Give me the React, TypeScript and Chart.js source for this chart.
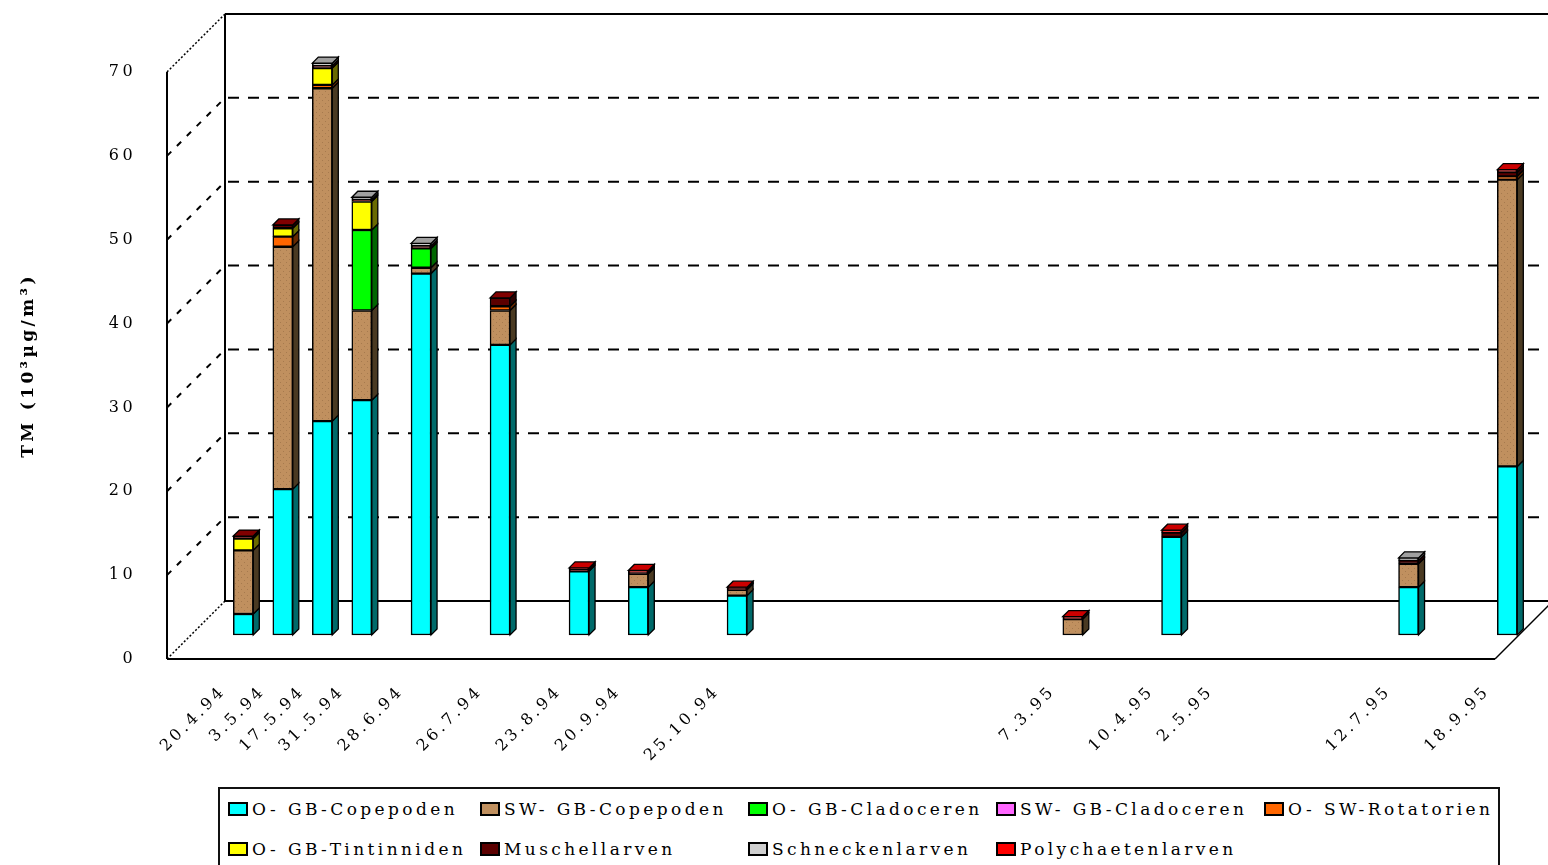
import React, { useEffect, useRef } from 'react';
import { Chart, registerables } from 'chart.js';

Chart.register(...registerables);

// ---------- data ----------
const dateLabels = ['20.4.94', '3.5.94', '17.5.94', '31.5.94', '28.6.94', '26.7.94', '23.8.94', '20.9.94', '25.10.94', '7.3.95', '10.4.95', '2.5.95', '12.7.95', '18.9.95'];
// position of each sampling date on the (irregular) category axis of the original chart
const axisSlots = [0, 2, 4, 6, 9, 13, 17, 20, 25, 42, 47, 50, 59, 64];
const yTickValues = [0, 10, 20, 30, 40, 50, 60, 70];

const oGbCopepoden = [2.5, 17.4, 25.5, 28.0, 43.1, 34.6, 7.6, 5.7, 4.7, 0, 11.7, 0, 5.7, 20.1];
const swGbCopepoden = [7.6, 28.9, 39.7, 10.7, 0.7, 4.1, 0, 1.6, 0.7, 1.9, 0, 0, 2.8, 34.2];
const oGbCladoceren = [0, 0, 0, 9.6, 2.3, 0, 0, 0, 0, 0, 0, 0, 0, 0];
const swGbCladoceren = [0, 0, 0, 0, 0, 0, 0, 0, 0, 0, 0, 0, 0, 0];
const oSwRotatorien = [0, 1.2, 0.4, 0, 0, 0.5, 0, 0, 0, 0, 0, 0, 0, 0.4];
const oGbTintinniden = [1.4, 1.0, 2.0, 3.4, 0, 0, 0, 0, 0, 0, 0, 0, 0, 0];
const muschellarven = [0.3, 0.4, 0.3, 0.2, 0.3, 1.0, 0.2, 0.2, 0.1, 0, 0.5, 0, 0.4, 0.5];
const schneckenlarven = [0, 0, 0.3, 0.3, 0.3, 0, 0, 0, 0, 0, 0, 0, 0.3, 0];
const polychaetenlarven = [0, 0, 0, 0, 0, 0, 0.2, 0.2, 0.2, 0.3, 0.3, 0, 0, 0.3];

const seriesNames = ['O- GB-Copepoden', 'SW- GB-Copepoden', 'O- GB-Cladoceren', 'SW- GB-Cladoceren', 'O- SW-Rotatorien', 'O- GB-Tintinniden', 'Muschellarven', 'Schneckenlarven', 'Polychaetenlarven'];
const seriesValues = [oGbCopepoden, swGbCopepoden, oGbCladoceren, swGbCladoceren, oSwRotatorien, oGbTintinniden, muschellarven, schneckenlarven, polychaetenlarven];

// ---------- styles ----------
const seriesColors = ['#00FFFF', '#C0905F', '#00FF00', '#FF66FF', '#FF6600', '#FFFF00', '#5C0000', '#D0D0D0', '#FF0000'];
const sideColors = ['#006A6A', '#4A3A22', '#006600', '#662966', '#662900', '#6A6A00', '#2A0000', '#606060', '#6A0000'];
const topColors = ['#00FFFF', '#C0905F', '#00FF00', '#FF66FF', '#FF6600', '#FFFF00', '#800000', '#A0A0A0', '#CC0000'];

const FONT = "'DejaVu Serif', 'Liberation Serif', serif";
const W = 1548;
const H = 865;
const PLOT_LEFT = 167;
const PLOT_TOP = 72;
const PLOT_BOTTOM = 659;
const X_AXIS_H = 128;
const WALL_DEPTH = 58;
const FLOOR_RIGHT = 1495;
const BAR_PLANE_OFFSET = 24;
const BAR_SIDE = 6;
const SLOT_PX = 19.75;
const FIRST_BAR_PX = 243.3;
const Y_MAX = 70;

const pxPerUnit = (PLOT_BOTTOM - PLOT_TOP) / Y_MAX;
const yBarMin = -BAR_PLANE_OFFSET / pxPerUnit;
const xMin = (PLOT_LEFT - FIRST_BAR_PX) / SLOT_PX;
const xMax = xMin + (W - PLOT_LEFT) / SLOT_PX;

function makeBrownPattern(ctx: CanvasRenderingContext2D): CanvasPattern | string {
  const c = document.createElement('canvas');
  c.width = 6;
  c.height = 6;
  const g = c.getContext('2d');
  if (!g) return seriesColors[1];
  g.fillStyle = '#C0905F';
  g.fillRect(0, 0, 6, 6);
  g.fillStyle = '#A67A4E';
  g.fillRect(1, 1, 1, 1);
  g.fillRect(4, 4, 1, 1);
  return ctx.createPattern(c, 'repeat') || seriesColors[1];
}

const letterSpacingPlugin = {
  id: 'letterSpacing',
  beforeDraw(chart: any) {
    try {
      (chart.ctx as any).letterSpacing = '3.4px';
    } catch (e) {
      /* ignore */
    }
  },
};

const wallsPlugin = {
  id: 'walls3d',
  beforeDatasetsDraw(chart: any) {
    const ctx: CanvasRenderingContext2D = chart.ctx;
    const yF = chart.scales.yFront;
    const left = chart.chartArea.left;
    const bottom = chart.chartArea.bottom;
    const D = WALL_DEPTH;
    const top70 = yF.getPixelForValue(Y_MAX);
    const backLeft = left + D;
    const backRight = FLOOR_RIGHT + D;
    ctx.save();
    ctx.strokeStyle = '#000';
    ctx.lineCap = 'butt';
    const line = (x1: number, y1: number, x2: number, y2: number) => {
      ctx.beginPath();
      ctx.moveTo(x1, y1);
      ctx.lineTo(x2, y2);
      ctx.stroke();
    };
    ctx.lineWidth = 2;
    ctx.setLineDash([11, 9]);
    yTickValues.forEach((v) => {
      if (v === 0 || v === Y_MAX) return;
      const yp = yF.getPixelForValue(v);
      line(backLeft + 3, yp - D, backRight, yp - D);
    });
    ctx.setLineDash([6, 8]);
    yTickValues.forEach((v) => {
      if (v === 0 || v === Y_MAX) return;
      const yp = yF.getPixelForValue(v);
      line(left, yp, backLeft, yp - D);
    });
    ctx.lineWidth = 1.5;
    ctx.setLineDash([2, 2]);
    line(left, top70, backLeft, top70 - D);
    line(left, bottom, backLeft, bottom - D);
    ctx.setLineDash([]);
    ctx.lineWidth = 2;
    line(backLeft, bottom - D, backLeft, top70 - D);
    line(backLeft, top70 - D, backRight + 10, top70 - D);
    line(backLeft, bottom - D, backRight + 10, bottom - D);
    line(left, bottom, left, top70);
    line(left, bottom, FLOOR_RIGHT, bottom);
    ctx.lineWidth = 1.5;
    line(FLOOR_RIGHT, bottom, backRight, bottom - D);
    ctx.restore();
  },
};

const bars3dPlugin = {
  id: 'bars3d',
  afterDatasetsDraw(chart: any) {
    const ctx: CanvasRenderingContext2D = chart.ctx;
    const D = BAR_SIDE;
    ctx.save();
    ctx.strokeStyle = '#000';
    ctx.lineWidth = 1.3;
    ctx.lineJoin = 'miter';
    ctx.setLineDash([]);
    for (let i = 0; i < axisSlots.length; i++) {
      const segs: any[] = [];
      chart.data.datasets.forEach((_ds: any, d: number) => {
        const meta = chart.getDatasetMeta(d);
        const el = meta.data[i];
        if (!el) return;
        const p = el.getProps(['x', 'y', 'base', 'width'], true);
        const top = Math.min(p.y, p.base);
        const bot = Math.max(p.y, p.base);
        if (bot - top < 0.05) return;
        segs.push({ d, top, bot, l: p.x - p.width / 2, r: p.x + p.width / 2 });
      });
      if (!segs.length) continue;
      segs.forEach((s) => {
        ctx.beginPath();
        ctx.moveTo(s.r, s.bot);
        ctx.lineTo(s.r, s.top);
        ctx.lineTo(s.r + D, s.top - D);
        ctx.lineTo(s.r + D, s.bot - D);
        ctx.closePath();
        ctx.fillStyle = sideColors[s.d];
        ctx.fill();
        ctx.stroke();
      });
      const t = segs.reduce((a, b) => (b.top < a.top ? b : a));
      ctx.beginPath();
      ctx.moveTo(t.l, t.top);
      ctx.lineTo(t.l + D, t.top - D);
      ctx.lineTo(t.r + D, t.top - D);
      ctx.lineTo(t.r, t.top);
      ctx.closePath();
      ctx.fillStyle = topColors[t.d];
      ctx.fill();
      ctx.stroke();
    }
    ctx.restore();
  },
};

export default function App() {
  const canvasRef = useRef<HTMLCanvasElement | null>(null);

  useEffect(() => {
    const canvas = canvasRef.current;
    if (!canvas) return;
    const ctx = canvas.getContext('2d');
    if (!ctx) return;
    const brown = makeBrownPattern(ctx);

    const datasets = seriesNames.map((name, d) => ({
      label: name,
      data: axisSlots.map((x, i) => ({ x, y: seriesValues[d][i] })),
      backgroundColor: d === 1 ? brown : seriesColors[d],
      borderColor: '#000',
      borderWidth: 1.5,
      borderSkipped: false,
      barThickness: 20,
      clip: false as any,
      xAxisID: 'x',
      yAxisID: 'y',
    }));

    const chart = new Chart(canvas, {
      type: 'bar',
      data: { datasets: datasets as any },
      options: {
        responsive: false,
        animation: false,
        events: [],
        layout: { padding: { top: PLOT_TOP, left: 0, right: 0, bottom: H - PLOT_BOTTOM - X_AXIS_H } },
        plugins: {
          legend: { display: false },
          tooltip: { enabled: false },
          title: { display: false },
        },
        scales: {
          x: {
            type: 'linear',
            position: 'bottom',
            stacked: true,
            offset: false,
            bounds: 'data',
            min: xMin,
            max: xMax,
            grid: { display: false, drawTicks: false },
            border: { display: false },
            afterBuildTicks: (scale: any) => {
              scale.ticks = axisSlots.map((v) => ({ value: v }));
            },
            afterFit: (scale: any) => {
              scale.height = X_AXIS_H;
            },
            ticks: {
              autoSkip: false,
              maxRotation: 45,
              minRotation: 45,
              padding: 23,
              labelOffset: -20,
              color: '#000',
              font: { family: FONT, size: 16 },
              callback: (_v: any, i: number) => dateLabels[i],
            },
          },
          y: {
            type: 'linear',
            stacked: true,
            display: false,
            bounds: 'data',
            min: yBarMin,
            max: yBarMin + Y_MAX,
          },
          yFront: {
            type: 'linear',
            position: 'left',
            bounds: 'data',
            min: 0,
            max: Y_MAX,
            grid: { display: false, drawTicks: false },
            border: { display: false },
            afterBuildTicks: (scale: any) => {
              scale.ticks = yTickValues.map((v) => ({ value: v }));
            },
            afterFit: (scale: any) => {
              scale.width = PLOT_LEFT;
            },
            ticks: {
              padding: 31,
              color: '#000',
              font: { family: FONT, size: 16 },
            },
            title: {
              display: true,
              text: 'TM (10³µg/m³)',
              color: '#000',
              font: { family: FONT, size: 17, weight: 'bold' },
              padding: { top: 18, bottom: 0 },
            },
          },
        } as any,
      },
      plugins: [letterSpacingPlugin, wallsPlugin, bars3dPlugin],
    });

    return () => chart.destroy();
  }, []);

  return (
    <div style={{ position: 'fixed', left: 0, top: 0, width: W, height: H, overflow: 'hidden', background: '#fff' }}>
      <canvas ref={canvasRef} width={W} height={H} style={{ position: 'absolute', left: 0, top: 0, width: W, height: H }} />
      <div
        style={{
          position: 'absolute',
          left: 218,
          top: 787,
          width: 1282,
          height: 100,
          boxSizing: 'border-box',
          border: '2px solid #111',
          background: '#fff',
          overflow: 'hidden',
          display: 'grid',
          gridTemplateColumns: '252px 268px 248px 268px 260px',
          gridAutoRows: '40px',
          paddingLeft: 8,
          fontFamily: FONT,
          fontSize: 17,
          letterSpacing: '3.4px',
          color: '#000',
        }}
      >
        {seriesNames.map((name, d) => (
          <div key={name} style={{ display: 'flex', alignItems: 'center', whiteSpace: 'nowrap' }}>
            <span
              style={{
                display: 'inline-block',
                width: 20,
                height: 14,
                boxSizing: 'border-box',
                border: '2px solid #000',
                background: seriesColors[d],
                marginRight: 4,
                flex: '0 0 auto',
              }}
            />
            <span>{name}</span>
          </div>
        ))}
      </div>
    </div>
  );
}
